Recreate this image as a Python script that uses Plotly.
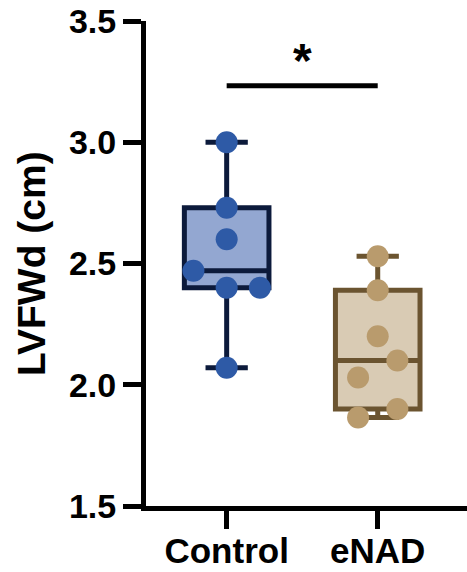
import plotly.graph_objects as go

# Group labels and measured LV free wall thickness (diastole), cm
groups = ["Control", "eNAD"]
control_vals = [3.00, 2.73, 2.60, 2.47, 2.40, 2.40, 2.07]
enad_vals = [2.53, 2.39, 2.20, 2.10, 2.03, 1.90, 1.865]

y_ticks = [1.5, 2.0, 2.5, 3.0, 3.5]
sig_label = "*"

# Colours per group: (point, box fill, box outline)
palette = {
    "Control": ("#2E5AA6", "#93A7D1", "#0C1A3B"),
    "eNAD": ("#B99B6D", "#D9CBB4", "#6B5430"),
}

FONT = "Liberation Sans, Arial, Helvetica, sans-serif"


def swarm_offsets(vals, gap=0.085, step_odd=0.22, step_even=0.26):
    """Spread nearly-equal values sideways so the dots do not overlap."""
    order = sorted(range(len(vals)), key=lambda i: vals[i])
    clusters, cur = [], [order[0]]
    for i in order[1:]:
        if vals[i] - vals[cur[-1]] < gap:
            cur.append(i)
        else:
            clusters.append(cur)
            cur = [i]
    clusters.append(cur)

    offs = [0.0] * len(vals)
    for cl in clusters:
        n = len(cl)
        if n % 2:
            pattern = [0]
            k = 1
            while len(pattern) < n:
                pattern += [k, -k]
                k += 1
            step = step_odd
        else:
            pattern = []
            k = 0.5
            while len(pattern) < n:
                pattern += [-k, k]
                k += 1
            step = step_even
        for idx, p in zip(cl, pattern[:n]):
            offs[idx] = p * step
    return offs


fig = go.Figure()

for pos, (name, vals) in enumerate(zip(groups, [control_vals, enad_vals])):
    pt, fill, edge = palette[name]
    fig.add_trace(go.Box(
        x=[pos] * len(vals), y=vals, name=name,
        boxpoints=False, quartilemethod="exclusive",
        width=0.56, whiskerwidth=0.5,
        fillcolor=fill, line=dict(color=edge, width=5),
        showlegend=False, hoverinfo="skip",
    ))

for pos, (name, vals) in enumerate(zip(groups, [control_vals, enad_vals])):
    pt, fill, edge = palette[name]
    offs = swarm_offsets(vals)
    fig.add_trace(go.Scatter(
        x=[pos + o for o in offs], y=vals, mode="markers",
        marker=dict(size=22, color=pt, line=dict(width=0)),
        showlegend=False, hoverinfo="skip",
    ))

# Significance bracket between the two groups
fig.add_shape(type="line", xref="x", yref="y", x0=0, x1=1, y0=3.233, y1=3.233,
              line=dict(color="black", width=5))
fig.add_annotation(x=0.5, y=3.338, xref="x", yref="y", text=sig_label,
                   showarrow=False, font=dict(family=FONT, size=48, color="black", weight="bold"))

# Y-axis title
fig.add_annotation(x=-0.357, y=0.5, xref="paper", yref="paper", text="LVFWd (cm)",
                   textangle=-90, showarrow=False, xanchor="center", yanchor="middle",
                   font=dict(family=FONT, size=39, color="black", weight="bold"))

fig.update_layout(
    width=467, height=572,
    margin=dict(l=146, r=0, t=21, b=66),
    paper_bgcolor="white", plot_bgcolor="white",
    font=dict(family=FONT, color="black"),
    xaxis=dict(
        range=[-0.534, 1.591], tickvals=[0, 1], ticktext=groups,
        showline=True, linecolor="black", linewidth=5,
        ticks="outside", ticklen=18, tickwidth=5, tickcolor="black",
        ticklabelstandoff=-8,
        tickfont=dict(family=FONT, size=35, color="black", weight="bold"),
        showgrid=False, zeroline=False, fixedrange=True,
    ),
    yaxis=dict(
        range=[1.5, 3.5], tickvals=y_ticks, tickformat=".1f",
        showline=True, linecolor="black", linewidth=5,
        ticks="outside", ticklen=18, tickwidth=5, tickcolor="black",
        tickfont=dict(family=FONT, size=34, color="black", weight="bold"),
        showgrid=False, zeroline=False, fixedrange=True,
    ),
)

fig.write_html("out.html")
